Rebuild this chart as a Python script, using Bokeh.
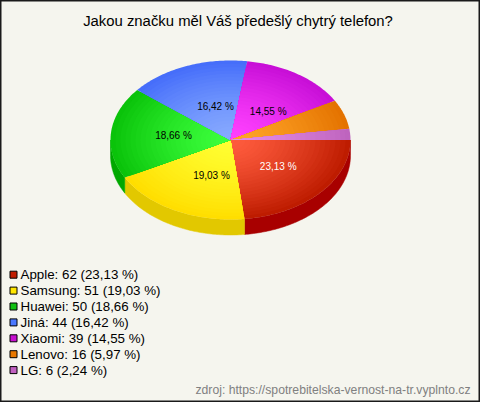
import numpy as np
from bokeh.plotting import figure
from bokeh.models import Range1d
from bokeh.core.properties import value
from bokeh.embed import file_html
from bokeh.resources import INLINE

TITLE = "Jakou značku měl Váš předešlý chytrý telefon?"
SOURCE_NOTE = "zdroj: https://spotrebitelska-vernost-na-tr.vyplnto.cz"
brands = ["Apple", "Samsung", "Huawei", "Jiná", "Xiaomi", "Lenovo", "LG"]
counts = [62, 51, 50, 44, 39, 16, 6]
percents = ["23,13", "19,03", "18,66", "16,42", "14,55", "5,97", "2,24"]
show_label = [True, True, True, True, True, False, False]
label_colors = ["#ffffff", "#000000", "#000000", "#000000", "#000000", "#000000", "#000000"]
rim_colors = [(190, 28, 0), (255, 222, 0), (10, 195, 10), (70, 110, 250), (200, 15, 215), (228, 115, 0), (190, 100, 190)]
hub_colors = [(255, 92, 62), (255, 255, 50), (60, 255, 60), (135, 170, 255), (255, 65, 255), (255, 165, 40), (230, 140, 230)]
wall_colors = ["#a80000", "#e2c800", "#00a800", "#3a5fd0", "#a800b0", "#c06000", "#a060a0"]
legend_colors = ["#c01c00", "#ffe600", "#10c010", "#4a78ff", "#c810d0", "#e87800", "#c060c0"]

# label placement relative to the pie centre, in pixels
label_dx = [47.7, -19, -57, -15, 37.7, 0, 0]
label_dy = [26, 35, -5, -33.3, -28.3, 0, 0]

W, H = 480, 402
BG = "#f5f5ee"
CX, CY, RX, RY, DEPTH = 230.0, 139.5, 120.0, 79.5, 15.5
RINGS = 24

p = figure(width=W, height=H, output_backend="svg", toolbar_location=None,
           x_range=Range1d(0, W), y_range=Range1d(H, 0),
           min_border=0, background_fill_color=BG, border_fill_color=BG,
           outline_line_color="#1a1a1a", outline_line_width=2)
p.axis.visible = False
p.grid.visible = False

total = sum(counts)
edges = np.concatenate([[0], np.cumsum(counts)]) / total * 2 * np.pi

def arc(a, b):
    n = max(3, int((b - a) / 0.015))
    return np.linspace(a, b, n)

def hexc(c):
    return "#%02x%02x%02x" % tuple(int(round(v)) for v in c)

# side wall: front half only (screen y grows downward)
for i in range(len(counts)):
    a, b = edges[i], min(edges[i + 1], np.pi)
    if a >= np.pi:
        continue
    t = arc(a, b)
    xs = CX + RX * np.cos(t)
    ys = CY + RY * np.sin(t)
    px = np.concatenate([xs, xs[::-1]])
    py = np.concatenate([ys, ys[::-1] + DEPTH])
    p.patch(px, py, fill_color=wall_colors[i], line_color=wall_colors[i], line_width=0.5)

# top face: nested sectors, outer (rim colour) to inner (hub colour)
for i in range(len(counts)):
    t = arc(edges[i], edges[i + 1])
    xs_all, ys_all, cols = [], [], []
    for k in range(RINGS):
        f = 1 - k / RINGS
        g = f ** 1.4
        c = [h + (r - h) * g for r, h in zip(rim_colors[i], hub_colors[i])]
        xs_all.append(np.concatenate([[CX], CX + f * RX * np.cos(t)]))
        ys_all.append(np.concatenate([[CY], CY + f * RY * np.sin(t)]))
        cols.append(hexc(c))
    p.patches(xs_all, ys_all, fill_color=cols, line_color=None)

# slice labels
lx, ly, lt, lc = [], [], [], []
for i in range(len(counts)):
    if show_label[i]:
        lx.append(CX + label_dx[i])
        ly.append(CY + label_dy[i])
        lt.append(percents[i] + " %")
        lc.append(label_colors[i])
p.text(lx, ly, text=lt, text_color=lc, text_font=value("Liberation Sans"), text_font_size="10px",
       text_align="center", text_baseline="middle")

# title and source
p.text([237.5], [20], text=[TITLE], text_font=value("Liberation Sans"), text_font_size="14.87px",
       text_color="#000000", text_align="center", text_baseline="middle")
p.text([470], [389.5], text=[SOURCE_NOTE], text_font=value("Liberation Sans"), text_font_size="12.2px",
       text_color="#808080", text_align="right", text_baseline="middle")

# legend
rows = np.arange(len(brands))
ly0 = 274.2 + rows * 15.9
p.rect(np.full(len(brands), 13), ly0, width=7, height=7, fill_color=legend_colors,
       line_color="#000000", line_width=1)
p.text(np.full(len(brands), 20), ly0, text=[f"{b}: {c} ({q} %)" for b, c, q in zip(brands, counts, percents)],
       text_font=value("Liberation Sans"), text_font_size="13.33px", text_color="#000000",
       text_align="left", text_baseline="middle")

open("out.html", "w").write(file_html(p, INLINE))
